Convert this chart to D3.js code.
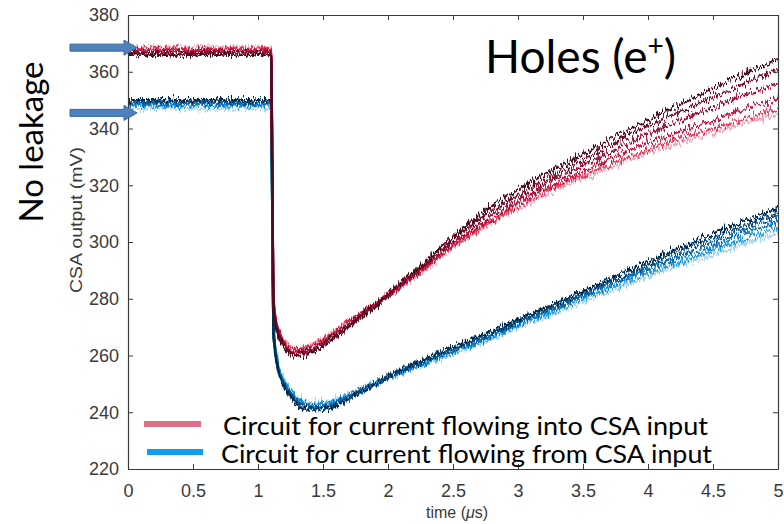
<!DOCTYPE html>
<html>
<head>
<meta charset="utf-8">
<script src="https://cdn.jsdelivr.net/npm/d3@7/dist/d3.min.js"></script>
<style>
  html, body { margin: 0; padding: 0; background: #fff; }
  svg { display: block; }
  .tick text { font-family: "Liberation Sans", Arial, sans-serif; fill: #3a3a3a; }
  .tick line, .domain { stroke: #3a3a3a; }
</style>
</head>
<body>
<script>
// Sample times (µs) of the CSA output traces
const timeUs = [0, 0.5, 1.0, 1.10, 1.12, 1.15, 1.2, 1.25, 1.3, 1.4, 1.5, 1.75, 2.0, 2.25, 2.5, 2.75, 3.0, 3.25, 3.5, 3.75, 4.0, 4.25, 4.5, 4.75, 5.0];

// Circuit for current flowing into CSA input (mV), darkest trace first
const intoTraces = [
  [366, 366, 366, 366, 277, 268, 263, 260.5, 260, 261, 263.5, 272, 281.5, 291.5, 302, 311, 318.5, 325, 331, 337, 343, 348.5, 354, 359.5, 364.5],
  [366.5, 366.5, 366.5, 366.5, 277.5, 268.5, 263.5, 261, 260.5, 261.5, 264, 272.5, 281.5, 291, 301, 309.5, 316.5, 323, 329, 335, 341, 346, 351, 356, 361],
  [367, 367, 367, 367, 278, 269, 264, 261.5, 261, 262, 264.5, 273, 281.5, 290.5, 300, 308, 315, 321.5, 327, 332.5, 338, 343, 347.5, 352, 356],
  [367.5, 367.5, 367.5, 367.5, 278.5, 269.5, 264.5, 262, 261.5, 262.5, 265, 273, 281, 290, 299, 306.5, 313.5, 319.5, 325, 330, 335, 339, 343, 347, 350.5],
  [368, 368, 368, 368, 279, 270, 265, 262.5, 262, 263, 265.5, 273.5, 281, 289.5, 298.5, 306, 312.5, 318.5, 323.5, 328, 332.5, 336.5, 340, 343.5, 347],
  [368.5, 368.5, 368.5, 368.5, 279.5, 270.5, 265.5, 263, 262.5, 263.5, 266, 273.5, 281, 289, 298, 305.5, 312, 317.5, 322.5, 327, 331.5, 335, 338.5, 342, 345]
];
const intoColors = ["#4a0a1c", "#7a0f2c", "#a3123a", "#c9143f", "#e23a5c", "#f2a3b5"];

// Circuit for current flowing from CSA input (mV), darkest trace first
const fromTraces = [
  [350, 350, 350, 350, 267, 256, 249, 245.5, 243, 241, 241, 246, 252.5, 258, 263, 267.5, 272.5, 277.5, 282.5, 288, 293, 298, 303, 307.5, 312],
  [349.5, 349.5, 349.5, 349.5, 267.5, 256.5, 249.5, 246, 243.5, 241.5, 241.5, 246.5, 252.5, 257.5, 262.5, 267, 272, 277, 282, 287, 292, 297, 301.5, 306, 310],
  [349, 349, 349, 349, 268, 257, 250, 246.5, 244, 242, 242, 246.5, 252.5, 257.5, 262, 266.5, 271.5, 276.5, 281.5, 286.5, 291, 295.5, 300, 304.5, 308.5],
  [348.5, 348.5, 348.5, 348.5, 268.5, 257.5, 250.5, 247, 244.5, 242.5, 242.5, 247, 252.5, 257, 261.5, 266, 271, 276, 281, 285.5, 290, 294.5, 298.5, 303, 307],
  [348, 348, 348, 348, 269, 258, 251, 247.5, 245, 243, 243, 247, 252, 256.5, 261, 265.5, 270.5, 275, 280, 284.5, 289, 293, 297, 301, 305],
  [347, 347, 347, 347, 269.5, 258.5, 251.5, 248, 245.5, 243.5, 243.5, 247.5, 252, 256.5, 260.5, 265, 270, 274.5, 279, 283.5, 288, 292, 295.5, 299.5, 303]
];
const fromColors = ["#062c4e", "#0a4c7e", "#0a66a8", "#0a82cc", "#25a0e8", "#9fd2f2"];

const xTicks = [0, 0.5, 1, 1.5, 2, 2.5, 3, 3.5, 4, 4.5, 5];
const yTicks = [220, 240, 260, 280, 300, 320, 340, 360, 380];
const legendLabels = ["Circuit for current flowing into CSA input", "Circuit for current flowing from CSA input"];
const legendColors = ["#e0708a", "#0a9ff0"];
const arrowLevels = [368.5, 345.5];

const W = 784, H = 524;
const margin = { top: 15, right: 6, bottom: 55, left: 128 };

const svg = d3.select("body").append("svg").attr("width", W).attr("height", H);
svg.append("rect").attr("width", W).attr("height", H).attr("fill", "#fff");

const x = d3.scaleLinear().domain([0, 5]).range([margin.left, W - margin.right]);
const y = d3.scaleLinear().domain([220, 380]).range([H - margin.bottom, margin.top]);

const defs = svg.append("defs");
defs.append("clipPath").attr("id", "plotClip").append("rect")
  .attr("x", x(0)).attr("y", y(380)).attr("width", x(5) - x(0)).attr("height", y(220) - y(380));

// Vertical-only jitter filter gives each trace its sampled-noise texture
function makeJitter(id, seed) {
  const f = defs.append("filter").attr("id", id)
    .attr("filterUnits", "userSpaceOnUse")
    .attr("x", 0).attr("y", 0).attr("width", W).attr("height", H);
  f.append("feTurbulence").attr("type", "fractalNoise")
    .attr("baseFrequency", "0.6 0.07").attr("numOctaves", 2).attr("seed", seed).attr("result", "noise");
  f.append("feColorMatrix").attr("in", "noise").attr("type", "matrix")
    .attr("values", "0 0 0 0 0.5  0 1 0 0 0  0 0 1 0 0  0 0 0 0 1").attr("result", "vnoise");
  f.append("feDisplacementMap").attr("in", "SourceGraphic").attr("in2", "vnoise")
    .attr("scale", 14).attr("xChannelSelector", "R").attr("yChannelSelector", "G");
}

const line = d3.line()
  .x((d, i) => x(timeUs[i]))
  .y(d => y(d))
  .curve(d3.curveMonotoneX);

const plot = svg.append("g").attr("clip-path", "url(#plotClip)");

function drawGroup(traces, colors, seedBase) {
  const g = plot.append("g");
  // lightest drawn first so the dark traces sit on top
  for (let k = traces.length - 1; k >= 0; k--) {
    const id = "jit" + (seedBase + k);
    makeJitter(id, seedBase + k);
    g.append("g").attr("filter", `url(#${id})`)
      .append("path")
      .attr("d", line(traces[k]))
      .attr("fill", "none")
      .attr("stroke", colors[k])
      .attr("stroke-width", 2.4)
      .attr("stroke-linejoin", "round");
  }
}
drawGroup(fromTraces, fromColors, 20);
drawGroup(intoTraces, intoColors, 1);

// Axes box with inward ticks
const axG = svg.append("g");
axG.append("g").attr("transform", `translate(0,${y(220)})`)
  .call(d3.axisBottom(x).tickValues(xTicks).tickFormat(d3.format("")).tickSize(-5).tickSizeOuter(0).tickPadding(15))
  .call(g => g.selectAll("text").attr("font-size", 18));
axG.append("g").attr("transform", `translate(0,${y(380)})`)
  .call(d3.axisTop(x).tickValues(xTicks).tickFormat("").tickSize(-5).tickSizeOuter(0));
axG.append("g").attr("transform", `translate(${x(0)},0)`)
  .call(d3.axisLeft(y).tickValues(yTicks).tickFormat(d3.format("d")).tickSize(-5).tickSizeOuter(0).tickPadding(9))
  .call(g => g.selectAll("text").attr("font-size", 18));
axG.append("g").attr("transform", `translate(${x(5)},0)`)
  .call(d3.axisRight(y).tickValues(yTicks).tickFormat("").tickSize(-5).tickSizeOuter(0));
axG.selectAll(".domain").attr("stroke-width", 1.2);

// Axis titles
const xt = svg.append("text")
  .attr("x", (x(0) + x(5)) / 2 + 4).attr("y", 518)
  .attr("text-anchor", "middle")
  .attr("font-family", "Liberation Sans, Arial, sans-serif")
  .attr("font-size", 16).attr("fill", "#3a3a3a");
xt.append("tspan").text("time (");
xt.append("tspan").attr("font-style", "italic").text("\u03bc");
xt.append("tspan").text("s)");

svg.append("text")
  .attr("transform", `translate(82,${(y(220) + y(380)) / 2 - 22}) rotate(-90)`)
  .attr("text-anchor", "middle")
  .attr("font-family", "Liberation Sans, Arial, sans-serif")
  .attr("font-size", 16).attr("fill", "#3a3a3a")
  .attr("textLength", 146).attr("lengthAdjust", "spacingAndGlyphs")
  .text("CSA output (mV)");

// Annotations
const holes = svg.append("text")
  .attr("x", 485).attr("y", 73)
  .attr("font-family", "Lato, 'Open Sans', sans-serif")
  .attr("font-size", 46).attr("fill", "#000");
holes.append("tspan").text("Holes (e");
holes.append("tspan").attr("font-size", 28).attr("dy", -17).text("+");
holes.append("tspan").attr("dy", 17).text(")");

svg.append("text")
  .attr("transform", "translate(43,142) rotate(-90)")
  .attr("text-anchor", "middle")
  .attr("font-family", "Lato, 'Open Sans', sans-serif")
  .attr("font-size", 33).attr("fill", "#000")
  .text("No leakage");

// Level arrows on the left
const arrowShape = (cy) => {
  const x0 = 70, x1 = 124, x2 = 137;
  return `M${x0},${cy - 3.5}L${x1},${cy - 3.5}L${x1},${cy - 7.5}L${x2},${cy}L${x1},${cy + 7.5}L${x1},${cy + 3.5}L${x0},${cy + 3.5}Z`;
};
svg.selectAll("path.arrow").data(arrowLevels).join("path")
  .attr("class", "arrow")
  .attr("d", d => arrowShape(y(d)))
  .attr("fill", "#4f81bd").attr("stroke", "#3a679c").attr("stroke-width", 1);

// Legend
const leg = svg.append("g");
legendLabels.forEach((lab, i) => {
  const cy = 424 + i * 28;
  leg.append("line")
    .attr("x1", 144 + i * 3).attr("x2", 201 + i * 2).attr("y1", cy).attr("y2", cy)
    .attr("stroke", legendColors[i]).attr("stroke-width", 6);
  leg.append("text")
    .attr("x", 223 - i * 2).attr("y", cy + 11)
    .attr("font-family", "Lato, 'Open Sans', sans-serif")
    .attr("font-size", 25).attr("fill", "#000")
    .attr("textLength", 485 + i * 6).attr("lengthAdjust", "spacingAndGlyphs")
    .text(lab);
});
</script>
</body>
</html>
